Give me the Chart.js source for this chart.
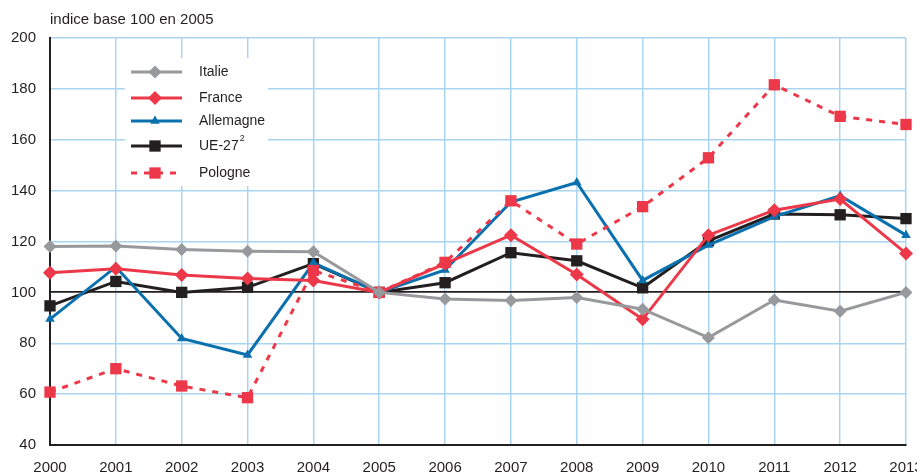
<!DOCTYPE html>
<html>
<head>
<meta charset="utf-8">
<script src="https://cdn.jsdelivr.net/npm/chart.js@4.4.1/dist/chart.umd.min.js"></script>
<style>
  html, body { margin: 0; padding: 0; background: #fff; overflow: hidden; }
  #wrap { width: 917px; height: 475px; position: relative; }
</style>
</head>
<body>
<div id="wrap"><canvas id="chart"></canvas></div>
<script>
const years = ['2000', '2001', '2002', '2003', '2004', '2005', '2006', '2007', '2008', '2009', '2010', '2011', '2012', '2013'];
const yTicks = [40, 60, 80, 100, 120, 140, 160, 180, 200];

const italie = [118, 118.2, 116.9, 116.2, 116, 100, 97.4, 96.8, 98, 93.4, 82.2, 97, 92.6, 100];
const france = [107.7, 109.3, 106.8, 105.5, 104.7, 100, 111.3, 122.5, 107, 89.4, 122.5, 132.3, 136.7, 115.3];
const allemagne = [89.5, 110, 81.9, 75.4, 111.6, 100, 108.8, 135.5, 143.2, 104.7, 118.6, 129.8, 138, 122.5];
const ue27 = [94.7, 104.3, 100, 102, 111.3, 100, 103.8, 115.6, 112.4, 101.8, 120.3, 130.8, 130.5, 129];
const pologne = [60.8, 70, 63.2, 58.6, 108.6, 100, 111.8, 136, 119, 133.7, 152.9, 181.6, 169.2, 166];

const GREY = '#98999c';
const RED = '#ec3848';
const BLUE = '#0a70ae';
const BLACK = '#231f20';
const GRID = '#a9d5f1';
const FONT = '"Liberation Sans", Arial, sans-serif';

function series(label, data, color, style, radius, order, dash) {
  return {
    label, data, order,
    borderColor: color,
    backgroundColor: color,
    pointBackgroundColor: color,
    pointBorderColor: color,
    borderWidth: 3,
    borderDash: dash || [],
    pointStyle: style,
    pointRadius: radius,
    pointBorderWidth: 0,
    pointHoverRadius: radius,
    tension: 0,
    fill: false,
  };
}

const datasets = [
  series('Italie', italie, GREY, 'rectRot', 6.5, 0),
  series('France', france, RED, 'rectRot', 7, 1),
  series('Allemagne', allemagne, BLUE, 'triangle', 5.5, 3),
  series('UE-27', ue27, BLACK, 'rect', 8, 4),
  series('Pologne', pologne, RED, 'rect', 8, 2, [6, 7]),
];

const legendRows = [72, 98, 121, 146, 173];

const overlay = {
  id: 'overlay',
  afterDraw(chart) {
    const ctx = chart.ctx;
    const area = chart.chartArea;
    ctx.save();
    // title
    ctx.fillStyle = BLACK;
    ctx.font = '15px ' + FONT;
    ctx.textAlign = 'left';
    ctx.textBaseline = 'middle';
    ctx.fillText('indice base 100 en 2005', area.left, 20);

    // legend box
    ctx.fillStyle = '#fff';
    ctx.fillRect(125, 58, 143, 128);
    datasets.forEach((ds, i) => {
      const y = legendRows[i];
      ctx.save();
      ctx.strokeStyle = ds.borderColor;
      ctx.lineWidth = 3;
      ctx.setLineDash(ds.borderDash);
      ctx.beginPath();
      ctx.moveTo(131, y);
      ctx.lineTo(182, y);
      ctx.stroke();
      ctx.setLineDash([]);
      ctx.fillStyle = ds.borderColor;
      Chart.helpers.drawPoint(ctx, {
        pointStyle: ds.pointStyle,
        radius: ds.pointRadius,
        rotation: 0,
        borderWidth: 0,
      }, 155, y);
      ctx.restore();
      ctx.fillStyle = BLACK;
      ctx.font = '14px ' + FONT;
      ctx.textAlign = 'left';
      ctx.textBaseline = 'middle';
      ctx.fillText(ds.label, 199, y);
      if (ds.label === 'UE-27') {
        const w = ctx.measureText(ds.label).width;
        ctx.font = '9px ' + FONT;
        ctx.fillText('2', 199 + w + 1, y - 7);
      }
    });
    ctx.restore();
  },
};

new Chart(document.getElementById('chart'), {
  type: 'line',
  data: { labels: years, datasets },
  options: {
    responsive: true,
    maintainAspectRatio: false,
    animation: false,
    layout: { padding: { top: 38, right: 11, bottom: 0, left: 0 } },
    plugins: {
      legend: { display: false },
      title: { display: false },
      tooltip: { enabled: false },
    },
    scales: {
      x: {
        type: 'category',
        offset: false,
        grid: { color: GRID, lineWidth: 1.5, drawTicks: false },
        border: { color: BLACK, width: 2 },
        ticks: {
          color: BLACK,
          font: { family: FONT, size: 15 },
          padding: 14,
          maxRotation: 0,
          autoSkip: false,
        },
        afterFit(scale) {
          scale.height = 30;
          scale.paddingRight = 0;
          scale.paddingLeft = 0;
        },
      },
      y: {
        min: 40,
        max: 200,
        afterBuildTicks(scale) {
          scale.ticks = yTicks.map((v) => ({ value: v }));
        },
        grid: {
          color: (c) => (c.tick && c.tick.value === 100 ? BLACK : GRID),
          lineWidth: (c) => (c.tick && c.tick.value === 100 ? 1.8 : 1.5),
          drawTicks: false,
        },
        border: { color: BLACK, width: 2 },
        ticks: {
          color: BLACK,
          font: { family: FONT, size: 15 },
          padding: 14,
        },
        afterFit(scale) {
          scale.width = 50;
        },
      },
    },
  },
  plugins: [overlay],
});
</script>
</body>
</html>
